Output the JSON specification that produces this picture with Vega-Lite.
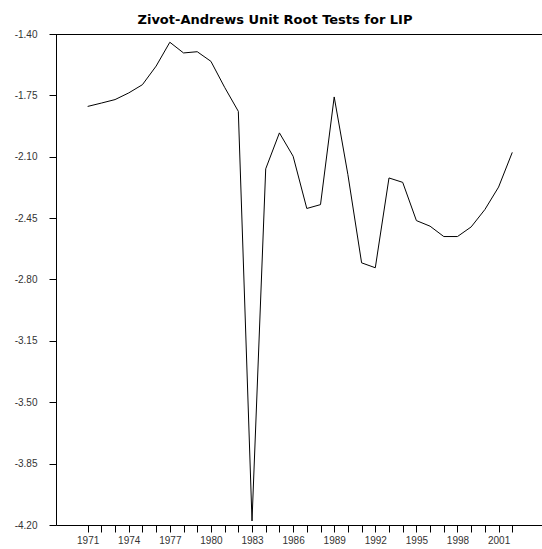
{
  "$schema": "https://vega.github.io/schema/vega-lite/v6.json",
  "width": 486,
  "height": 491,
  "autosize": {"type": "none"},
  "padding": {"left": 56, "top": 34, "right": 0, "bottom": 24},
  "config": {"view": {"stroke": null}, "font": "Liberation Sans"},
  "title": {
    "text": "Zivot-Andrews Unit Root Tests for LIP",
    "fontSize": 13,
    "fontWeight": "bold",
    "font": "DejaVu Sans",
    "color": "#000",
    "anchor": "middle",
    "dx": -24,
    "offset": 2
  },
  "data": {
    "values": [
      {"year": 1971, "value": -1.813},
      {"year": 1972, "value": -1.794},
      {"year": 1973, "value": -1.774},
      {"year": 1974, "value": -1.736},
      {"year": 1975, "value": -1.689},
      {"year": 1976, "value": -1.583},
      {"year": 1977, "value": -1.447},
      {"year": 1978, "value": -1.508},
      {"year": 1979, "value": -1.501},
      {"year": 1980, "value": -1.556},
      {"year": 1981, "value": -1.704},
      {"year": 1982, "value": -1.841},
      {"year": 1983, "value": -4.177},
      {"year": 1984, "value": -2.169},
      {"year": 1985, "value": -1.964},
      {"year": 1986, "value": -2.097},
      {"year": 1987, "value": -2.395},
      {"year": 1988, "value": -2.373},
      {"year": 1989, "value": -1.759},
      {"year": 1990, "value": -2.202},
      {"year": 1991, "value": -2.705},
      {"year": 1992, "value": -2.733},
      {"year": 1993, "value": -2.221},
      {"year": 1994, "value": -2.246},
      {"year": 1995, "value": -2.464},
      {"year": 1996, "value": -2.496},
      {"year": 1997, "value": -2.555},
      {"year": 1998, "value": -2.555},
      {"year": 1999, "value": -2.5},
      {"year": 2000, "value": -2.401},
      {"year": 2001, "value": -2.273},
      {"year": 2002, "value": -2.075}
    ]
  },
  "layer": [
    {
      "mark": {"type": "rule", "color": "#000", "strokeWidth": 1, "yOffset": 0.5},
      "encoding": {"y": {"datum": -1.4, "type": "quantitative"}}
    },
    {
      "mark": {"type": "line", "color": "#000", "strokeWidth": 1},
      "encoding": {
        "x": {
          "field": "year",
          "type": "quantitative",
          "scale": {"domain": [1968.69, 2004.17], "nice": false, "zero": false},
          "axis": {
            "values": [1971,1972,1973,1974,1975,1976,1977,1978,1979,1980,1981,1982,1983,1984,1985,1986,1987,1988,1989,1990,1991,1992,1993,1994,1995,1996,1997,1998,1999,2000,2001,2002],
            "format": "d",
            "labelExpr": "(datum.value - 1971) % 3 == 0 ? datum.label : ''",
            "title": null,
            "grid": false,
            "domainColor": "#000",
            "tickColor": "#000",
            "tickSize": 7,
            "labelPadding": 3,
            "labelFontSize": 10,
            "labelColor": "#333",
            "labelFont": "Liberation Sans",
            "labelFlush": false,
            "labelOverlap": false,
            "labelBound": false
          }
        },
        "y": {
          "field": "value",
          "type": "quantitative",
          "scale": {"domain": [-4.2, -1.4], "nice": false, "zero": false},
          "axis": {
            "values": [-1.4, -1.75, -2.1, -2.45, -2.8, -3.15, -3.5, -3.85, -4.2],
            "labelExpr": "'-' + format(abs(datum.value), '.2f')",
            "title": null,
            "grid": false,
            "domainColor": "#000",
            "tickColor": "#000",
            "tickSize": 7,
            "labelPadding": 12,
            "labelFontSize": 10,
            "labelColor": "#333",
            "labelFont": "Liberation Sans",
            "labelFlush": false,
            "labelOverlap": false
          }
        }
      }
    }
  ]
}
